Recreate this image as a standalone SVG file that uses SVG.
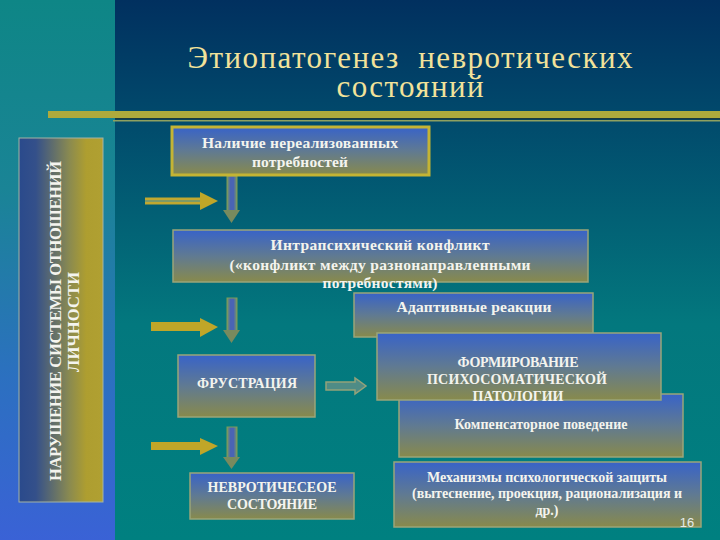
<svg xmlns="http://www.w3.org/2000/svg" width="720" height="540" viewBox="0 0 720 540">
<defs>
<linearGradient id="bgR" x1="0" y1="0" x2="0" y2="1">
<stop offset="0" stop-color="#01305f"/>
<stop offset="0.22" stop-color="#014a6c"/>
<stop offset="0.6" stop-color="#03787e"/>
<stop offset="1" stop-color="#008080"/>
</linearGradient>
<linearGradient id="bgL" x1="0" y1="0" x2="0" y2="1">
<stop offset="0" stop-color="#0e8686"/>
<stop offset="0.35" stop-color="#1a8496"/>
<stop offset="0.7" stop-color="#2c70c0"/>
<stop offset="1" stop-color="#3a62d6"/>
</linearGradient>
<linearGradient id="boxG" x1="0" y1="0" x2="0" y2="1">
<stop offset="0" stop-color="#3863c8"/>
<stop offset="0.5" stop-color="#607a92"/>
<stop offset="1" stop-color="#888a4c"/>
</linearGradient>
<linearGradient id="sideG" x1="0" y1="0" x2="1" y2="0">
<stop offset="0" stop-color="#2a4a8c"/>
<stop offset="0.2" stop-color="#34508a"/>
<stop offset="0.6" stop-color="#8a8a50"/>
<stop offset="0.8" stop-color="#ae9e30"/>
<stop offset="1" stop-color="#b0a032"/>
</linearGradient>
<linearGradient id="shaftG" x1="0" y1="0" x2="1" y2="0">
<stop offset="0" stop-color="#7a9a60"/>
<stop offset="0.35" stop-color="#4a64b4"/>
<stop offset="0.65" stop-color="#4a64b4"/>
<stop offset="1" stop-color="#7a9a60"/>
</linearGradient>
<style>
.box{fill:url(#boxG);stroke:#9aa57a;stroke-width:1.5}
.box1{fill:url(#boxG);stroke:#c4b434;stroke-width:3}
.t{font-family:"Liberation Serif","Times New Roman",serif;font-weight:bold;font-size:14px;fill:#f4f4ee;text-anchor:middle}
.tl{font-size:15.5px}
.title{font-family:"Liberation Serif","Times New Roman",serif;font-size:31px;fill:#f2e29a;text-anchor:middle}
.gold{fill:#c0a628}
.shaft{fill:url(#shaftG);stroke:#7f9c58;stroke-width:1}
.head{fill:#788a5e}
</style>
</defs>
<rect x="0" y="0" width="720" height="540" fill="url(#bgR)"/>
<rect x="0" y="0" width="115" height="540" fill="url(#bgL)"/>
<rect x="48" y="111" width="672" height="7" fill="#aeaa3c"/>
<rect x="115" y="118" width="605" height="1.5" fill="#1a3a40"/>
<rect x="113" y="120" width="607" height="1.5" fill="#8ea060"/>

<g id="title">
<text class="title" x="410" y="68" textLength="445" lengthAdjust="spacing" xml:space="preserve">Этиопатогенез  невротических</text>
<text class="title" x="410" y="97" textLength="147" lengthAdjust="spacing">состояний</text>
</g>

<g id="side-panel">
<rect x="19" y="138" width="84" height="364" fill="url(#sideG)" stroke="#a4b4a4" stroke-width="1"/>
<text class="t" style="font-size:16.5px" transform="translate(61,321) rotate(-90)" textLength="320" lengthAdjust="spacing">НАРУШЕНИЕ СИСТЕМЫ ОТНОШЕНИЙ</text>
<text class="t" style="font-size:16.5px" transform="translate(79,322) rotate(-90)" textLength="100" lengthAdjust="spacing">ЛИЧНОСТИ</text>
</g>

<g id="connectors">
<rect class="shaft" x="227" y="176" width="10" height="35"/>
<polygon class="head" points="223,210 240,210 231.5,223"/>
<rect class="shaft" x="227" y="298" width="10" height="33"/>
<polygon class="head" points="223,330 240,330 231.5,343"/>
<rect class="shaft" x="227" y="427" width="10" height="31"/>
<polygon class="head" points="223,457 240,457 231.5,469"/>
<rect x="145" y="197.5" width="56" height="2.5" fill="#c0a830"/>
<rect x="145" y="200" width="56" height="2" fill="#7e9a66"/>
<rect x="145" y="202" width="56" height="2.5" fill="#c0a830"/>
<polygon class="gold" points="200,192 200,210 218,201"/>
<rect class="gold" x="151" y="322" width="50" height="9"/>
<polygon class="gold" points="200,318 200,337 218,327"/>
<rect class="gold" x="151" y="442" width="50" height="8"/>
<polygon class="gold" points="200,438 200,455 218,446"/>
<polygon points="326,382 355,382 355,378 366,386 355,394 355,390 326,390" fill="#4f8c86" stroke="#94a27a" stroke-width="1.5"/>
</g>

<g id="node-needs">
<rect class="box1" x="172" y="127" width="257" height="48"/>
<text class="t tl" x="300" y="148" textLength="196" lengthAdjust="spacing">Наличие нереализованных</text>
<text class="t tl" x="300" y="167" textLength="96" lengthAdjust="spacing">потребностей</text>
</g>

<g id="node-conflict">
<rect class="box" x="173" y="230" width="415" height="52"/>
<text class="t tl" x="380" y="250" textLength="219" lengthAdjust="spacing">Интрапсихический конфликт</text>
<text class="t tl" x="380" y="270" textLength="301" lengthAdjust="spacing">(«конфликт между разнонаправленными</text>
<text class="t tl" x="380" y="288" textLength="115" lengthAdjust="spacing">потребностями)</text>
</g>

<g id="node-adaptive">
<rect class="box" x="354" y="293" width="239" height="44"/>
<text class="t tl" x="474" y="312" textLength="155" lengthAdjust="spacing">Адаптивные реакции</text>
</g>

<g id="node-frustration">
<rect class="box" x="178" y="355" width="137" height="62"/>
<text class="t" x="247" y="388" textLength="100" lengthAdjust="spacing">ФРУСТРАЦИЯ</text>
</g>

<g id="node-compensatory">
<rect class="box" x="399" y="394" width="284" height="63"/>
<text class="t" x="541" y="429" textLength="173" lengthAdjust="spacing">Компенсаторное поведение</text>
</g>

<g id="node-psychosomatic">
<rect class="box" x="377" y="333" width="284" height="67"/>
<text class="t" x="518" y="367" textLength="121" lengthAdjust="spacing">ФОРМИРОВАНИЕ</text>
<text class="t" x="517" y="384" textLength="180" lengthAdjust="spacing">ПСИХОСОМАТИЧЕСКОЙ</text>
<text class="t" x="518" y="401" textLength="91" lengthAdjust="spacing">ПАТОЛОГИИ</text>
</g>

<g id="node-neurotic">
<rect class="box" x="190" y="473" width="164" height="46"/>
<text class="t" x="272" y="492" textLength="129" lengthAdjust="spacing">НЕВРОТИЧЕСЕОЕ</text>
<text class="t" x="272" y="509" textLength="90" lengthAdjust="spacing">СОСТОЯНИЕ</text>
</g>

<g id="node-defense">
<rect class="box" x="394" y="462" width="307" height="65"/>
<text class="t" x="547" y="482" textLength="240" lengthAdjust="spacing">Механизмы психологической защиты</text>
<text class="t" x="547" y="498" textLength="270" lengthAdjust="spacing">(вытеснение, проекция, рационализация и</text>
<text class="t" x="547" y="515">др.)</text>
</g>

<text x="687" y="527" style="font-family:'Liberation Sans',Arial,sans-serif;font-size:13px;fill:#e6ecec;text-anchor:middle">16</text>
</svg>
